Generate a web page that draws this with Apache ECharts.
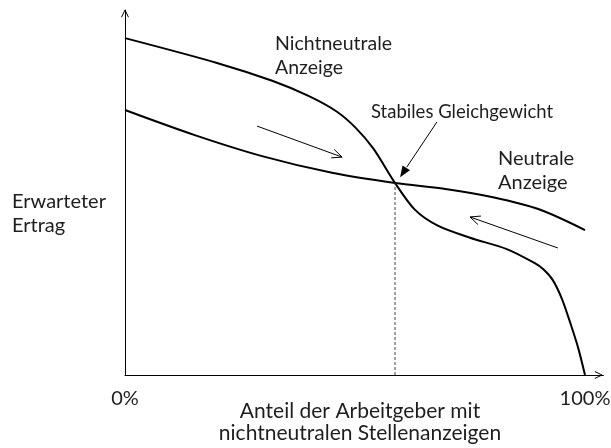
<!DOCTYPE html>
<html>
<head>
<meta charset="utf-8">
<script src="https://cdn.jsdelivr.net/npm/echarts@6/dist/echarts.min.js"></script>
<style>
  html, body { margin: 0; padding: 0; background: #fff; }
  #main { width: 611px; height: 448px; }
</style>
</head>
<body>
<div id="main"></div>
<script>
// Anteil nichtneutraler Stellenanzeigen (%) und erwarteter Ertrag (relative Einheiten)
var xNeutral = [0, 15, 30, 45, 58.7, 70, 80, 90, 100];
var yNeutral = [72.6, 65.8, 59.9, 55.4, 52.6, 50.9, 48.7, 45.4, 39.7];

var xNicht = [0, 20, 32, 40, 46, 50, 54, 58.7, 63, 68, 75, 83, 89, 91, 93, 95, 97, 98.5, 100];
var yNicht = [92.3, 85.5, 80.6, 76.4, 72.2, 67.9, 62.0, 52.6, 45.3, 40.9, 37.6, 34.5, 30.7, 28.9, 26.0, 20.8, 13.5, 7.5, 0];

var equilibrium = [58.7, 52.6];
var xTicks = [0, 100];
var xTickLabels = { 0: '0%', 100: '100%' };

// Pfeile: [start, ende] in Achsenwerten
var trendArrows = [
  [[28.7, 68.2], [47.2, 59.7]],
  [[94.1, 34.8], [75.0, 43.3]]
];
var pointerArrow = [[67.8, 69.3], [59.8, 54.2]];

var FONT = 'Lato';
var TXT = '#1e1e1e';

function pairs(xs, ys) {
  return xs.map(function (x, i) { return [x, ys[i]]; });
}

var myChart = echarts.init(document.getElementById('main'));

myChart.setOption({
  animation: false,
  grid: { left: 125, right: 7.6, top: 10, bottom: 73, outerBoundsMode: 'none', containLabel: false },
  xAxis: {
    type: 'value',
    min: 0,
    max: 104,
    axisLine: { show: true, lineStyle: { color: '#000', width: 1 } },
    axisTick: { show: false },
    splitLine: { show: false },
    axisLabel: {
      customValues: xTicks,
      formatter: function (v) { return xTickLabels[v] || ''; },
      margin: 14,
      fontSize: 20,
      fontFamily: FONT,
      color: TXT
    }
  },
  yAxis: {
    type: 'value',
    min: 0,
    max: 100,
    axisLine: { show: true, lineStyle: { color: '#000', width: 1 } },
    axisTick: { show: false },
    axisLabel: { show: false },
    splitLine: { show: false }
  },
  series: [
    {
      name: 'Nichtneutrale Anzeige',
      type: 'line',
      data: pairs(xNicht, yNicht),
      smooth: 0.3,
      showSymbol: false,
      lineStyle: { color: '#000', width: 2 }
    },
    {
      name: 'Neutrale Anzeige',
      type: 'line',
      data: pairs(xNeutral, yNeutral),
      smooth: 0.3,
      showSymbol: false,
      lineStyle: { color: '#000', width: 2 }
    },
    {
      name: 'Gleichgewicht',
      type: 'line',
      data: [[equilibrium[0], 0], equilibrium],
      showSymbol: false,
      lineStyle: { color: '#444', width: 1, type: [3, 2] }
    }
  ]
});

// Pfeile und Beschriftungen
function px(p) { return myChart.convertToPixel({ gridIndex: 0 }, p); }

function chevron(tip, from, len, half) {
  var a = Math.atan2(from[1] - tip[1], from[0] - tip[0]);
  var p1 = [tip[0] + len * Math.cos(a + half), tip[1] + len * Math.sin(a + half)];
  var p2 = [tip[0] + len * Math.cos(a - half), tip[1] + len * Math.sin(a - half)];
  return {
    type: 'polyline',
    shape: { points: [p1, tip, p2] },
    style: { stroke: '#000', lineWidth: 1, fill: null }
  };
}

var g = [];
var origin = px([0, 0]);
// Achsenpfeile
g.push(chevron([origin[0], 10], [origin[0], 100], 8, 0.45));
g.push(chevron([602, origin[1]], [500, origin[1]], 8, 0.45));

trendArrows.forEach(function (ar) {
  var s = px(ar[0]), e = px(ar[1]);
  g.push({ type: 'line', shape: { x1: s[0], y1: s[1], x2: e[0], y2: e[1] }, style: { stroke: '#000', lineWidth: 1 } });
  g.push(chevron(e, s, 11, 0.42));
});

(function () {
  var s = px(pointerArrow[0]), e = px(pointerArrow[1]);
  var a = Math.atan2(s[1] - e[1], s[0] - e[0]);
  var len = 12, half = 0.38;
  var b = [e[0] + len * Math.cos(a), e[1] + len * Math.sin(a)];
  g.push({ type: 'line', shape: { x1: s[0], y1: s[1], x2: b[0], y2: b[1] }, style: { stroke: '#000', lineWidth: 1 } });
  g.push({
    type: 'polygon',
    shape: { points: [e,
      [e[0] + len * Math.cos(a + half), e[1] + len * Math.sin(a + half)],
      [e[0] + len * Math.cos(a - half), e[1] + len * Math.sin(a - half)]] },
    style: { fill: '#000' }
  });
})();

function label(text, x, y, size, align, lh) {
  return {
    type: 'text', x: x, y: y,
    style: { text: text, fontSize: size, fontFamily: FONT, fill: TXT, lineHeight: lh || 24, verticalAlign: 'top', align: align || 'left' }
  };
}
g.push(label('Nichtneutrale\nAnzeige', 275, 32, 19.5));
g.push(label('Stabiles Gleichgewicht', 371, 100, 18.5));
g.push(label('Neutrale\nAnzeige', 498, 147, 20));
g.push(label('Erwarteter\nErtrag', 12, 190, 20));
// Achsentitel
g.push(label('Anteil der Arbeitgeber mit\nnichtneutralen Stellenanzeigen', 360, 400, 21, 'center', 22));

myChart.setOption({ graphic: g });
</script>
</body>
</html>
